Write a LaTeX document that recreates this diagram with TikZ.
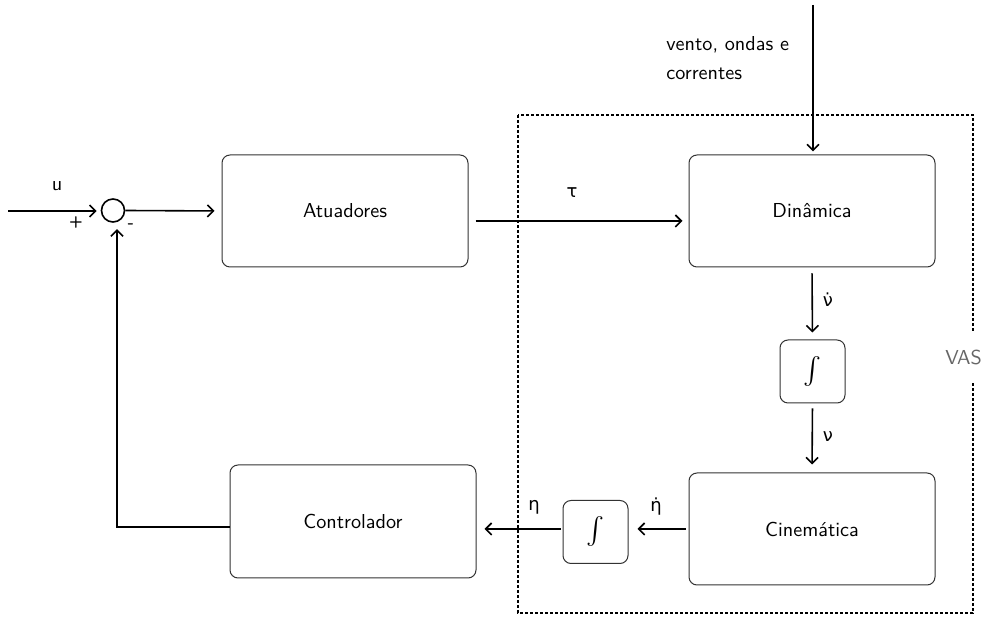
\documentclass[tikz,border=0pt]{standalone}
\usepackage{fontspec}
\usepackage{graphicx}
\usetikzlibrary{arrows.meta}
\newfontfamily\grk{DejaVu Sans}
\newcommand{\integ}{\scalebox{1.35}{$\int$}}
\begin{document}
\begin{tikzpicture}[x=0.5pt,y=-0.5pt,
  font=\sffamily\fontsize{10.1}{12}\selectfont,
  block/.style={draw=black!80, line width=0.5pt, rounded corners=4pt,
    minimum width=123pt, minimum height=56pt, inner sep=0pt},
  intbox/.style={draw=black!80, line width=0.5pt, rounded corners=4pt,
    minimum width=32.5pt, minimum height=31.5pt, inner sep=0pt},
  sig/.style={line width=0.8pt, -{Straight Barb[length=3pt,width=6pt]}},
  lbl/.style={inner sep=0pt},
  gk/.style={inner sep=0pt, font=\grk\fontsize{9}{11}\selectfont}]
\useasboundingbox (0,0) rectangle (992,619);

% system boundary
\draw[line width=1pt, dash pattern=on 1.5pt off 1pt] (518,115) rectangle (973,613);
\node[fill=white, text=black!60, inner xsep=2pt, inner ysep=9pt] (vas) at (963.5,357) {VAS};

% blocks
\node[block] (atu) at (345,211) {Atuadores};
\node[block] (din) at (812,211) {Dinâmica};
\node[intbox] (int1) at (812.5,371.5) {\integ};
\node[block] (cin) at (812,529) {Cinemática};
\node[intbox] (int2) at (595.5,532) {\integ};
\node[block, minimum height=56.5pt] (ctl) at (353,521.5) {Controlador};
\node[circle, draw, line width=0.8pt, minimum size=11.5pt, inner sep=0pt] (sum) at (113,210.5) {};

% signals
\coordinate (in) at (8,211);
\draw[sig, shorten >=2pt] (in) -- (in -| sum.west);
\draw[sig, shorten >=3.5pt] (sum.east) -- (atu.west);
\draw[sig, shorten <=3.5pt, shorten >=3pt] ([yshift=-5pt]atu.east) -- ([yshift=-5pt]din.west);
\coordinate (dist) at (813,5);
\draw[sig, shorten >=1.5pt] (dist) -- (dist |- din.north);
\draw[sig, shorten <=3pt, shorten >=3.5pt] (din.south) -- (int1.north);
\draw[sig, shorten <=2.5pt, shorten >=4pt] (int1.south) -- (cin.north);
\draw[sig, shorten <=1.5pt, shorten >=4.5pt] (cin.west) -- (cin.west -| int2.east);
\draw[sig, shorten <=1pt, shorten >=4pt] (cin.west -| int2.west) -- (cin.west -| ctl.east);
\draw[sig, shorten >=3.2pt] ([yshift=-2.75pt]ctl.west) -| ([xshift=2pt]sum.south);

% labels
\node[lbl] at (57,186) {u};
\node[lbl, font=\sffamily\bfseries\fontsize{8}{10}\selectfont] at (76,223) {+};
\node[lbl, font=\sffamily\bfseries\fontsize{9}{10}\selectfont] at (131,226) {-};
\node[lbl, anchor=west, align=left, font=\sffamily\fontsize{10.1}{14.5}\selectfont] at (666,58)
  {vento, ondas e\\correntes};
\node[gk] at (572,193) {τ};
\node[gk] at (828,300) {ν̇};
\node[gk] at (828,437) {ν};
\node[gk] at (656,507) {η̇};
\node[gk] at (534,507) {η};
\end{tikzpicture}
\end{document}
